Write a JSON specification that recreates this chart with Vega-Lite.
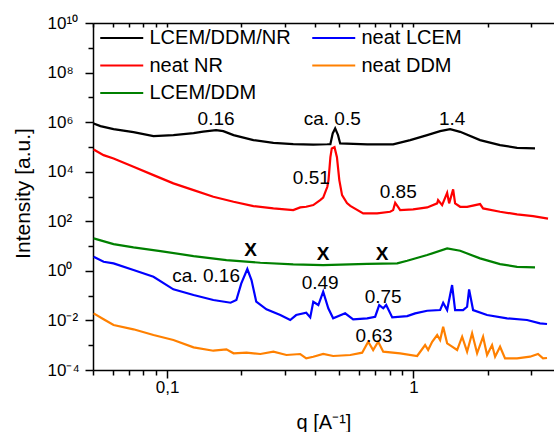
{
  "$schema": "https://vega.github.io/schema/vega-lite/v6.json",
  "width": 461,
  "height": 347,
  "autosize": {"type": "none"},
  "padding": {"left": 93, "top": 23, "right": 0, "bottom": 62},
  "background": "white",
  "config": {
    "view": {"stroke": null},
    "font": "Liberation Sans",
    "axis": {"grid": false, "domainColor": "#000", "tickColor": "#000", "labelColor": "#000", "titleColor": "#000", "domainWidth": 1.5, "tickWidth": 1.5, "labelFont": "Liberation Sans", "titleFont": "Liberation Sans", "titleFontWeight": "normal"},
    "legend": {"labelFont": "Liberation Sans", "labelColor": "#000"},
    "text": {"font": "Liberation Sans"}
  },
  "resolve": {"axis": {"x": "independent"}},
  "layer": [
    {
      "data": {"values": [
        {"s":"LCEM/DDM/NR","q":0.0503,"I":887000},{"s":"LCEM/DDM/NR","q":0.0536,"I":690000},{"s":"LCEM/DDM/NR","q":0.0606,"I":522000},{"s":"LCEM/DDM/NR","q":0.073,"I":395000},{"s":"LCEM/DDM/NR","q":0.088,"I":273000},{"s":"LCEM/DDM/NR","q":0.106,"I":299000},{"s":"LCEM/DDM/NR","q":0.128,"I":360000},{"s":"LCEM/DDM/NR","q":0.14,"I":414000},{"s":"LCEM/DDM/NR","q":0.158,"I":476000},{"s":"LCEM/DDM/NR","q":0.169,"I":434000},{"s":"LCEM/DDM/NR","q":0.186,"I":299000},{"s":"LCEM/DDM/NR","q":0.224,"I":188000},{"s":"LCEM/DDM/NR","q":0.27,"I":146000},{"s":"LCEM/DDM/NR","q":0.325,"I":130000},{"s":"LCEM/DDM/NR","q":0.392,"I":124000},{"s":"LCEM/DDM/NR","q":0.447,"I":128000},{"s":"LCEM/DDM/NR","q":0.46,"I":130000},{"s":"LCEM/DDM/NR","q":0.47,"I":350000},{"s":"LCEM/DDM/NR","q":0.481,"I":557000},{"s":"LCEM/DDM/NR","q":0.494,"I":299000},{"s":"LCEM/DDM/NR","q":0.504,"I":138000},{"s":"LCEM/DDM/NR","q":0.649,"I":126000},{"s":"LCEM/DDM/NR","q":0.827,"I":126000},{"s":"LCEM/DDM/NR","q":0.97,"I":188000},{"s":"LCEM/DDM/NR","q":1.137,"I":299000},{"s":"LCEM/DDM/NR","q":1.283,"I":434000},{"s":"LCEM/DDM/NR","q":1.409,"I":522000},{"s":"LCEM/DDM/NR","q":1.547,"I":406000},{"s":"LCEM/DDM/NR","q":1.864,"I":188000},{"s":"LCEM/DDM/NR","q":2.247,"I":118000},{"s":"LCEM/DDM/NR","q":2.634,"I":92000},{"s":"LCEM/DDM/NR","q":3.115,"I":87000},
        {"s":"neat NR","q":0.0503,"I":79300},{"s":"neat NR","q":0.0552,"I":46700},{"s":"neat NR","q":0.0606,"I":34400},{"s":"neat NR","q":0.073,"I":15800},{"s":"neat NR","q":0.088,"I":7290},{"s":"neat NR","q":0.106,"I":3380},{"s":"neat NR","q":0.128,"I":1810},{"s":"neat NR","q":0.154,"I":973},{"s":"neat NR","q":0.186,"I":611},{"s":"neat NR","q":0.224,"I":410},{"s":"neat NR","q":0.27,"I":331},{"s":"neat NR","q":0.325,"I":283},{"s":"neat NR","q":0.347,"I":363},{"s":"neat NR","q":0.367,"I":385},{"s":"neat NR","q":0.392,"I":450},{"s":"neat NR","q":0.418,"I":716},{"s":"neat NR","q":0.43,"I":900},{"s":"neat NR","q":0.447,"I":2460},{"s":"neat NR","q":0.452,"I":4580},{"s":"neat NR","q":0.46,"I":38800},{"s":"neat NR","q":0.466,"I":87000},{"s":"neat NR","q":0.478,"I":98200},{"s":"neat NR","q":0.489,"I":38800},{"s":"neat NR","q":0.5,"I":4580},{"s":"neat NR","q":0.513,"I":1140},{"s":"neat NR","q":0.537,"I":542},{"s":"neat NR","q":0.554,"I":420},{"s":"neat NR","q":0.625,"I":208},{"s":"neat NR","q":0.712,"I":208},{"s":"neat NR","q":0.804,"I":242},{"s":"neat NR","q":0.827,"I":283},{"s":"neat NR","q":0.843,"I":557},{"s":"neat NR","q":0.867,"I":374},{"s":"neat NR","q":0.883,"I":283},{"s":"neat NR","q":0.997,"I":302},{"s":"neat NR","q":1.137,"I":363},{"s":"neat NR","q":1.248,"I":527},{"s":"neat NR","q":1.259,"I":716},{"s":"neat NR","q":1.307,"I":450},{"s":"neat NR","q":1.37,"I":1410},{"s":"neat NR","q":1.396,"I":527},{"s":"neat NR","q":1.449,"I":1930},{"s":"neat NR","q":1.476,"I":527},{"s":"neat NR","q":1.547,"I":385},{"s":"neat NR","q":1.651,"I":385},{"s":"neat NR","q":1.864,"I":494},{"s":"neat NR","q":1.917,"I":331},{"s":"neat NR","q":2.247,"I":242},{"s":"neat NR","q":2.634,"I":190},{"s":"neat NR","q":3.058,"I":162},{"s":"neat NR","q":3.518,"I":129},
        {"s":"LCEM/DDM","q":0.0503,"I":20.4},{"s":"LCEM/DDM","q":0.0606,"I":12.0},{"s":"LCEM/DDM","q":0.073,"I":8.87},{"s":"LCEM/DDM","q":0.0939,"I":6.28},{"s":"LCEM/DDM","q":0.128,"I":3.95},{"s":"LCEM/DDM","q":0.174,"I":2.73},{"s":"LCEM/DDM","q":0.239,"I":2.12},{"s":"LCEM/DDM","q":0.325,"I":1.83},{"s":"LCEM/DDM","q":0.43,"I":1.71},{"s":"LCEM/DDM","q":0.649,"I":1.92},{"s":"LCEM/DDM","q":0.859,"I":2.01},{"s":"LCEM/DDM","q":0.943,"I":2.55},{"s":"LCEM/DDM","q":1.137,"I":4.34},{"s":"LCEM/DDM","q":1.37,"I":8.07},{"s":"LCEM/DDM","q":1.547,"I":6.46},{"s":"LCEM/DDM","q":1.864,"I":3.19},{"s":"LCEM/DDM","q":2.247,"I":1.88},{"s":"LCEM/DDM","q":2.634,"I":1.46},{"s":"LCEM/DDM","q":3.115,"I":1.38},
        {"s":"neat LCEM","q":0.0503,"I":3.7},{"s":"neat LCEM","q":0.0552,"I":2.33},{"s":"neat LCEM","q":0.0606,"I":2.01},{"s":"neat LCEM","q":0.073,"I":1.08},{"s":"neat LCEM","q":0.088,"I":0.578},{"s":"neat LCEM","q":0.106,"I":0.18},{"s":"neat LCEM","q":0.128,"I":0.106},{"s":"neat LCEM","q":0.154,"I":0.0665},{"s":"neat LCEM","q":0.181,"I":0.0518},{"s":"neat LCEM","q":0.191,"I":0.0665},{"s":"neat LCEM","q":0.2,"I":0.313},{"s":"neat LCEM","q":0.2116,"I":1.18},{"s":"neat LCEM","q":0.22,"I":0.426},{"s":"neat LCEM","q":0.23,"I":0.0568},{"s":"neat LCEM","q":0.253,"I":0.0281},{"s":"neat LCEM","q":0.288,"I":0.0165},{"s":"neat LCEM","q":0.316,"I":0.0104},{"s":"neat LCEM","q":0.334,"I":0.0165},{"s":"neat LCEM","q":0.367,"I":0.0204},{"s":"neat LCEM","q":0.381,"I":0.0133},{"s":"neat LCEM","q":0.392,"I":0.0568},{"s":"neat LCEM","q":0.411,"I":0.0418},{"s":"neat LCEM","q":0.43,"I":0.144},{"s":"neat LCEM","q":0.451,"I":0.0308},{"s":"neat LCEM","q":0.472,"I":0.0122},{"s":"neat LCEM","q":0.528,"I":0.0193},{"s":"neat LCEM","q":0.569,"I":0.0111},{"s":"neat LCEM","q":0.649,"I":0.0122},{"s":"neat LCEM","q":0.699,"I":0.0141},{"s":"neat LCEM","q":0.726,"I":0.0418},{"s":"neat LCEM","q":0.754,"I":0.0308},{"s":"neat LCEM","q":0.775,"I":0.0418},{"s":"neat LCEM","q":0.82,"I":0.0133},{"s":"neat LCEM","q":0.943,"I":0.015},{"s":"neat LCEM","q":1.016,"I":0.0193},{"s":"neat LCEM","q":1.137,"I":0.0246},{"s":"neat LCEM","q":1.283,"I":0.0262},{"s":"neat LCEM","q":1.32,"I":0.0518},{"s":"neat LCEM","q":1.37,"I":0.0262},{"s":"neat LCEM","q":1.435,"I":0.267},{"s":"neat LCEM","q":1.476,"I":0.0262},{"s":"neat LCEM","q":1.59,"I":0.0262},{"s":"neat LCEM","q":1.651,"I":0.0356},{"s":"neat LCEM","q":1.682,"I":0.179},{"s":"neat LCEM","q":1.746,"I":0.0262},{"s":"neat LCEM","q":1.99,"I":0.0165},{"s":"neat LCEM","q":2.399,"I":0.0122},{"s":"neat LCEM","q":2.891,"I":0.0104},{"s":"neat LCEM","q":3.264,"I":0.00764},{"s":"neat LCEM","q":3.485,"I":0.00716},
        {"s":"neat DDM","q":0.0503,"I":0.0193},{"s":"neat DDM","q":0.0552,"I":0.0111},{"s":"neat DDM","q":0.0606,"I":0.00653},{"s":"neat DDM","q":0.073,"I":0.00438},{"s":"neat DDM","q":0.088,"I":0.00258},{"s":"neat DDM","q":0.106,"I":0.00162},{"s":"neat DDM","q":0.128,"I":0.000822},{"s":"neat DDM","q":0.154,"I":0.0006},{"s":"neat DDM","q":0.174,"I":0.000684},{"s":"neat DDM","q":0.186,"I":0.000471},{"s":"neat DDM","q":0.21,"I":0.000499},{"s":"neat DDM","q":0.239,"I":0.000442},{"s":"neat DDM","q":0.27,"I":0.000547},{"s":"neat DDM","q":0.305,"I":0.000403},{"s":"neat DDM","q":0.347,"I":0.000442},{"s":"neat DDM","q":0.367,"I":0.000296},{"s":"neat DDM","q":0.392,"I":0.000344},{"s":"neat DDM","q":0.43,"I":0.000442},{"s":"neat DDM","q":0.472,"I":0.000367},{"s":"neat DDM","q":0.554,"I":0.000403},{"s":"neat DDM","q":0.619,"I":0.000499},{"s":"neat DDM","q":0.655,"I":0.00138},{"s":"neat DDM","q":0.686,"I":0.00064},{"s":"neat DDM","q":0.719,"I":0.00138},{"s":"neat DDM","q":0.754,"I":0.000547},{"s":"neat DDM","q":0.883,"I":0.000471},{"s":"neat DDM","q":1.035,"I":0.000367},{"s":"neat DDM","q":1.115,"I":0.00102},{"s":"neat DDM","q":1.147,"I":0.00064},{"s":"neat DDM","q":1.191,"I":0.00138},{"s":"neat DDM","q":1.248,"I":0.00258},{"s":"neat DDM","q":1.283,"I":0.00162},{"s":"neat DDM","q":1.32,"I":0.00557},{"s":"neat DDM","q":1.37,"I":0.00119},{"s":"neat DDM","q":1.435,"I":0.000871},{"s":"neat DDM","q":1.504,"I":0.00064},{"s":"neat DDM","q":1.576,"I":0.0022},{"s":"neat DDM","q":1.651,"I":0.000547},{"s":"neat DDM","q":1.73,"I":0.00302},{"s":"neat DDM","q":1.813,"I":0.000471},{"s":"neat DDM","q":1.917,"I":0.0022},{"s":"neat DDM","q":1.99,"I":0.000403},{"s":"neat DDM","q":2.085,"I":0.00102},{"s":"neat DDM","q":2.145,"I":0.000344},{"s":"neat DDM","q":2.247,"I":0.000871},{"s":"neat DDM","q":2.354,"I":0.000296},{"s":"neat DDM","q":2.634,"I":0.000296},{"s":"neat DDM","q":2.973,"I":0.000344},{"s":"neat DDM","q":3.204,"I":0.000442},{"s":"neat DDM","q":3.357,"I":0.000296},{"s":"neat DDM","q":3.485,"I":0.000305}
      ]},
      "mark": {"type": "line", "strokeWidth": 2.2, "clip": true},
      "encoding": {
        "x": {"field": "q", "type": "quantitative", "scale": {"type": "log", "domain": [0.05, 3.72]},
          "axis": {"orient": "bottom", "values": [0.05,0.06,0.07,0.08,0.09,0.1,0.2,0.3,0.4,0.5,0.6,0.7,0.8,0.9,1,2,3],
            "labelExpr": "datum.value == 0.1 ? '0,1' : (datum.value == 1 ? '1' : '')",
            "labelOverlap": false, "labelFlush": false, "labelFontSize": 17, "labelPadding": 1,
            "tickSize": {"condition": {"test": "datum.value == 0.1 || datum.value == 1", "value": 8}, "value": 5},
            "title": "q [A⁻¹]", "titleFontSize": 20, "titleY": 58, "titleBaseline": "alphabetic"}},
        "y": {"field": "I", "type": "quantitative", "scale": {"type": "log", "domain": [0.0001, 10000000000]},
          "axis": {"values": [0.0001,0.001,0.01,0.1,1,10,100,1000,10000,100000,1000000,10000000,100000000,1000000000,10000000000],
            "labelExpr": "['10⁻⁴','','10⁻²','','10⁰','','10²','','10⁴','','10⁶','','10⁸','','10¹⁰'][round(log(datum.value)/LN10)+4]",
            "labelOverlap": false, "labelAlign": "left", "labelPadding": 38, "labelFontSize": 17,
            "tickSize": {"condition": {"test": "round(log(datum.value)/LN10) % 2 == 0", "value": 8}, "value": 5},
            "title": "Intensity [a.u.]", "titleFontSize": 21, "titleX": -70, "titleY": 170, "titleAngle": -90, "titleBaseline": "middle", "titleAlign": "center"}},
        "color": {"field": "s", "type": "nominal",
          "scale": {"domain": ["LCEM/DDM/NR", "neat NR", "LCEM/DDM", "neat LCEM", "neat DDM"], "range": ["#000000", "#ff0000", "#008000", "#0000ff", "#ff8000"]},
          "legend": {"orient": "none", "legendX": 6, "legendY": 3, "columns": 2, "title": null, "padding": 0,
            "symbolType": "M-1,0H3", "symbolSize": 462, "symbolStrokeWidth": 2.2, "labelFontSize": 20, "labelOffset": 26.5,
            "rowPadding": 5.5, "columnPadding": 16, "labelLimit": 0}}
      }
    },
    {
      "data": {"values": [
        {"label": "0.16", "q": 0.158, "I": 1350000},
        {"label": "ca. 0.5", "q": 0.468, "I": 1350000},
        {"label": "1.4", "q": 1.435, "I": 1350000},
        {"label": "0.51", "q": 0.385, "I": 5520},
        {"label": "0.85", "q": 0.867, "I": 1504},
        {"label": "ca. 0.16", "q": 0.144, "I": 0.616},
        {"label": "0.49", "q": 0.418, "I": 0.322},
        {"label": "0.75", "q": 0.753, "I": 0.0879},
        {"label": "0.63", "q": 0.692, "I": 0.00235}
      ]},
      "mark": {"type": "text", "fontSize": 19, "align": "center", "baseline": "middle", "color": "#000"},
      "encoding": {
        "x": {"field": "q", "type": "quantitative", "scale": {"type": "log", "domain": [0.05, 3.72]},
          "axis": {"orient": "top", "values": [0.05,0.06,0.07,0.08,0.09,0.1,0.2,0.3,0.4,0.5,0.6,0.7,0.8,0.9,1,2,3], "labels": false, "tickSize": -4, "title": null}},
        "y": {"field": "I", "type": "quantitative", "scale": {"type": "log", "domain": [0.0001, 10000000000]}},
        "text": {"field": "label"}
      }
    },
    {
      "data": {"values": [
        {"label": "X", "q": 0.218, "I": 6.9},
        {"label": "X", "q": 0.43, "I": 4.76},
        {"label": "X", "q": 0.746, "I": 4.76}
      ]},
      "mark": {"type": "text", "fontSize": 19, "fontWeight": "bold", "align": "center", "baseline": "middle", "color": "#000"},
      "encoding": {
        "x": {"field": "q", "type": "quantitative", "scale": {"type": "log", "domain": [0.05, 3.72]}, "axis": null},
        "y": {"field": "I", "type": "quantitative", "scale": {"type": "log", "domain": [0.0001, 10000000000]}},
        "text": {"field": "label"}
      }
    }
  ]
}
